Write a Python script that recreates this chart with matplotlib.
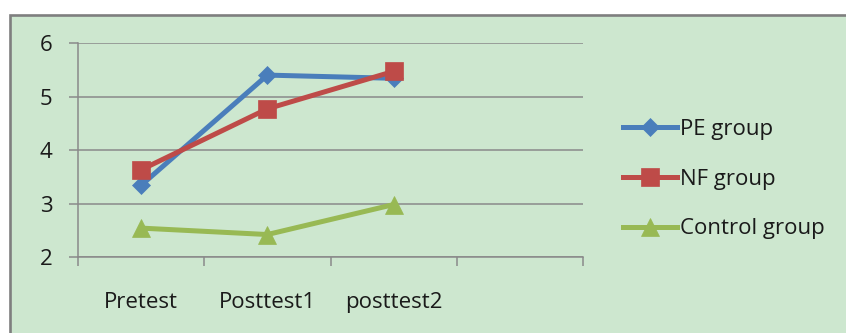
import numpy as np
import matplotlib
matplotlib.use("Agg")
from matplotlib import pyplot as plt
from matplotlib.patches import Rectangle

# data
categories = ["Pretest", "Posttest1", "posttest2"]
pe_group = [3.34, 5.40, 5.34]
nf_group = [3.63, 4.77, 5.47]
control_group = [2.54, 2.42, 2.98]

plt.rcParams['font.family'] = ['Open Sans', 'DejaVu Sans']

W, H = 846, 333
fig = plt.figure(figsize=(W / 100, H / 100), dpi=100)
fig.patch.set_facecolor("white")

# green chart-area box with grey frame (top and left edges visible)
bg = Rectangle((9.5 / W, -0.05), 1.2, 1 - 14.5 / H + 0.05, transform=fig.transFigure,
               facecolor="#CDE7CF", edgecolor="#7F7F7F", linewidth=1.9, zorder=-5)
fig.add_artist(bg)

ax = fig.add_axes([78 / W, (H - 257) / H, (583 - 78) / W, (257 - 43) / H])
ax.set_facecolor("none")

x = np.arange(len(categories))
ax.plot(x, pe_group, color="#4A7EBB", lw=3.6, marker="D", ms=9, mec="#4A7EBB", mew=0.5,
        label="PE group", zorder=3)
ax.plot(x, nf_group, color="#BE4B48", lw=3.6, marker="s", ms=13, mec="#BE4B48", mew=0.5,
        label="NF group", zorder=4)
ax.plot(x, control_group, color="#98B954", lw=3.6, marker="^", ms=13, mec="#98B954", mew=0.5,
        label="Control group", zorder=3)

grey = "#8A8A8A"
ax.set_xlim(-0.5, 3.5)
ax.set_ylim(2, 6)
ax.set_yticks([2, 3, 4, 5, 6])
ax.yaxis.grid(True, color=grey, lw=1.1)
ax.set_axisbelow(True)

for s in ["top", "right"]:
    ax.spines[s].set_visible(False)
for s in ["left", "bottom"]:
    ax.spines[s].set_color(grey)
    ax.spines[s].set_linewidth(1.1)

ax.tick_params(axis="y", direction="out", length=6.5, width=1.1, color=grey,
               labelsize=16, pad=12, labelcolor="#1a1a1a")
ax.set_xticks([-0.5, 0.5, 1.5, 2.5, 3.5])
ax.set_xticklabels([])
ax.tick_params(axis="x", which="major", direction="out", length=6.5, width=1.1, color=grey)
ax.set_xticks(x, minor=True)
ax.set_xticklabels(categories, minor=True)
ax.tick_params(axis="x", which="minor", length=0, labelsize=16, pad=25, labelcolor="#1a1a1a")

leg = ax.legend(loc="center left", bbox_to_anchor=(623 / W, 1 - 179 / H),
                bbox_transform=fig.transFigure, frameon=False, fontsize=16,
                handlelength=2.45, handletextpad=0.1, labelspacing=1.3,
                borderpad=0, borderaxespad=0)
for t in leg.get_texts():
    t.set_color("#1a1a1a")

fig.savefig("out.png", dpi=100)
